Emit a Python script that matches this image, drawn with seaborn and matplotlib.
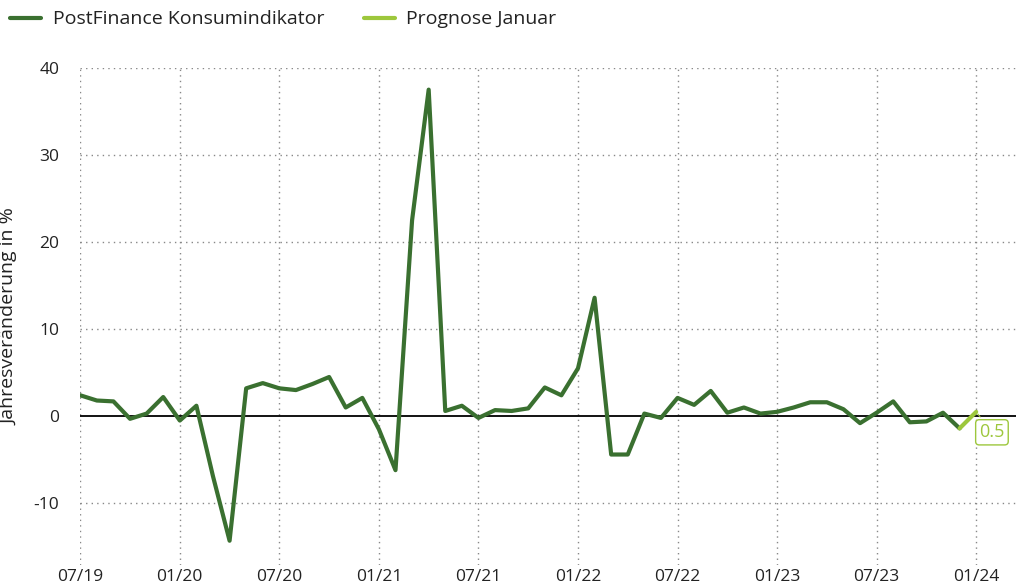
import pandas as pd
import matplotlib
matplotlib.use("Agg")
import matplotlib.pyplot as plt
import seaborn as sns

# monthly values, 07/2019 - 12/2023
months = pd.date_range("2019-07-01", "2023-12-01", freq="MS")
konsum = [2.4, 1.8, 1.7, -0.3, 0.3, 2.2,
          -0.5, 1.2, -6.9, -14.3, 3.2, 3.8, 3.2, 3.0, 3.7, 4.5, 1.0, 2.1,
          -1.5, -6.2, 22.5, 37.5, 0.6, 1.2, -0.2, 0.7, 0.6, 0.9, 3.3, 2.4,
          5.5, 13.6, -4.4, -4.4, 0.3, -0.2, 2.1, 1.3, 2.9, 0.4, 1.0, 0.3,
          0.5, 1.0, 1.6, 1.6, 0.8, -0.8, 0.4, 1.7, -0.7, -0.6, 0.4, -1.4]
prognose_idx = [53, 54]
prognose = [-1.4, 0.5]

tick_pos = [0, 6, 12, 18, 24, 30, 36, 42, 48, 54]
tick_labels = ["07/19", "01/20", "07/20", "01/21", "07/21",
               "01/22", "07/22", "01/23", "07/23", "01/24"]
y_ticks = [-10, 0, 10, 20, 30, 40]

dark_green = "#3a7030"
light_green = "#9dc73c"

sns.set_theme(style="white")
plt.rcParams["font.family"] = ["Open Sans", "DejaVu Sans"]
plt.rcParams["axes.unicode_minus"] = False

df = pd.DataFrame({"idx": range(len(konsum)), "wert": konsum})
df_prog = pd.DataFrame({"idx": prognose_idx, "wert": prognose})

fig = plt.figure(figsize=(10.16, 5.85), dpi=100)
ax = fig.add_axes([0.079, 0.034, 0.921, 0.85])

ax.axhline(0, color="black", lw=1.3, zorder=1)
sns.lineplot(data=df, x="idx", y="wert", color=dark_green, lw=3,
             ax=ax, label="PostFinance Konsumindikator", zorder=3)
sns.lineplot(data=df_prog, x="idx", y="wert", color=light_green, lw=3,
             ax=ax, label="Prognose Januar", zorder=4)

ax.annotate("0.5", xy=(54, 0.5), xytext=(54.95, -1.85), color=light_green,
            fontsize=13, ha="center", va="center",
            bbox=dict(boxstyle="round,pad=0.2", fc="white", ec=light_green, lw=1),
            arrowprops=dict(arrowstyle="-", color=light_green, lw=0.8))

ax.set_xlim(0, 56.4)
ax.set_ylim(-17.1, 40)
ax.set_xticks(tick_pos)
ax.set_xticklabels(tick_labels)
ax.set_yticks(y_ticks)
ax.set_xlabel("")
ax.set_ylabel("Jahresveränderung in %", fontsize=14, color="#222222")
ax.yaxis.set_label_coords(-0.066, 0.5)
ax.tick_params(axis="both", labelsize=12.5, colors="#222222", length=0)
ax.tick_params(axis="y", pad=15)
ax.tick_params(axis="x", pad=3)

for y in [-10, 10, 20, 30, 40]:
    ax.axhline(y, color="#888888", lw=1, ls=(0, (1, 3)), zorder=0)
for x in tick_pos:
    ax.axvline(x, color="#888888", lw=1, ls=(0, (1, 3)), zorder=0)
ax.grid(False)
sns.despine(ax=ax, left=True, bottom=True)

ax.get_legend().remove()
h, l = ax.get_legend_handles_labels()
fig.legend(h, l, loc="upper left", bbox_to_anchor=(-0.007, 1.012), ncol=2,
           frameon=False, fontsize=14, handlelength=1.6, handletextpad=0.6,
           columnspacing=2.0, labelcolor="#222222")

fig.savefig("out.png", dpi=100)
